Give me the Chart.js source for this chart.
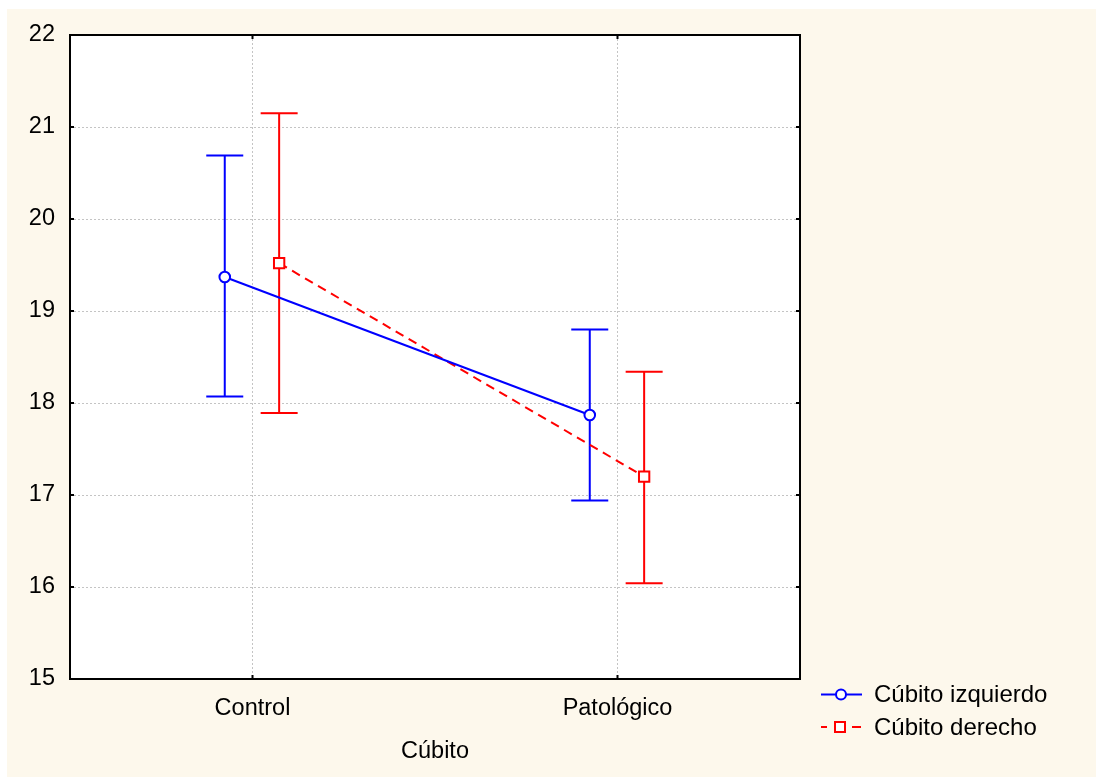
<!DOCTYPE html>
<html lang="es">
<head>
<meta charset="utf-8">
<title>Cúbito</title>
<script src="https://cdn.jsdelivr.net/npm/chart.js@4.4.1/dist/chart.umd.min.js"></script>
<style>
    html, body { margin: 0; padding: 0; background: #fff; overflow: hidden; }
    canvas { display: block; }
</style>
</head>
<body>
<canvas id="chart" width="1096" height="777"></canvas>
<script>
/* data */
const categories = ["Control", "Patológico"];
const yMin = 15, yMax = 22;

const izqMean = [19.37, 17.87];
const izqLow  = [18.07, 16.94];
const izqHigh = [20.69, 18.80];

const derMean = [19.52, 17.20];
const derLow  = [17.89, 16.04];
const derHigh = [21.15, 18.34];

/* ---------- style ---------- */
const FONT = "'Liberation Sans', Arial, sans-serif";
const BLUE = "#0000FF", RED = "#FF0000";
const DODGE = [-0.076, 0.073];   // horizontal shift of each series around its category
const CAP = 18.5;                // half width of whisker caps, px

Chart.defaults.font.family = FONT;
Chart.defaults.font.size = 23.5;
Chart.defaults.color = "#000";

function points(means, shift) {
    return means.map((v, i) => ({ x: i + shift, y: v }));
}

/* ---------- plugin: background, whiskers, frame, legend ---------- */
const decor = {
    id: "decor",
    beforeDraw(chart) {
        const { ctx, chartArea: a } = chart;
        ctx.save();
        ctx.fillStyle = "#FDF8EC";
        ctx.fillRect(7, 9, chart.width - 7, chart.height - 9);
        ctx.fillStyle = "#fff";
        ctx.fillRect(a.left, a.top, a.right - a.left, a.bottom - a.top);
        ctx.restore();
    },
    beforeDatasetsDraw(chart) {
        const { ctx } = chart, y = chart.scales.y;
        ctx.save();
        chart.data.datasets.forEach((ds, i) => {
            chart.getDatasetMeta(i).data.forEach((pt, j) => {
                const top = y.getPixelForValue(ds.high[j]);
                const bot = y.getPixelForValue(ds.low[j]);
                ctx.strokeStyle = ds.borderColor;
                ctx.lineWidth = 2;
                ctx.setLineDash([]);
                ctx.beginPath();
                ctx.moveTo(pt.x, top); ctx.lineTo(pt.x, bot);
                ctx.moveTo(pt.x - CAP, top); ctx.lineTo(pt.x + CAP, top);
                ctx.moveTo(pt.x - CAP, bot); ctx.lineTo(pt.x + CAP, bot);
                ctx.stroke();
            });
        });
        ctx.restore();
    },
    afterDraw(chart) {
        const { ctx, chartArea: a } = chart;
        const xs = chart.scales.x, ys = chart.scales.y;
        ctx.save();
        ctx.strokeStyle = "#000";
        ctx.lineWidth = 2;
        ctx.setLineDash([]);
        ctx.strokeRect(a.left, a.top, a.right - a.left, a.bottom - a.top);

        // inward tick marks
        ctx.beginPath();
        ys.ticks.forEach(t => {
            const p = ys.getPixelForValue(t.value);
            ctx.moveTo(a.left, p); ctx.lineTo(a.left + 4, p);
            ctx.moveTo(a.right, p); ctx.lineTo(a.right - 4, p);
        });
        xs.ticks.forEach(t => {
            const p = xs.getPixelForValue(t.value);
            ctx.moveTo(p, a.bottom); ctx.lineTo(p, a.bottom - 4);
            ctx.moveTo(p, a.top); ctx.lineTo(p, a.top + 4);
        });
        ctx.stroke();

        // legend
        const rows = [694.5, 727];
        chart.data.datasets.forEach((ds, i) => {
            const yy = rows[i];
            ctx.strokeStyle = ds.borderColor;
            ctx.lineWidth = 2;
            ctx.beginPath();
            if (ds.borderDash) {
                ctx.moveTo(821, yy); ctx.lineTo(827, yy);
                ctx.moveTo(852, yy); ctx.lineTo(861, yy);
            } else {
                ctx.moveTo(821, yy); ctx.lineTo(862, yy);
            }
            ctx.stroke();
            ctx.fillStyle = "#fff";
            ctx.beginPath();
            if (ds.pointStyle === "rect") {
                ctx.rect(835, yy - 5, 10, 10);
            } else {
                ctx.arc(841, yy, 5, 0, Math.PI * 2);
            }
            ctx.fill();
            ctx.stroke();

            ctx.fillStyle = "#000";
            ctx.font = "24px " + FONT;
            ctx.textBaseline = "middle";
            ctx.textAlign = "left";
            ctx.fillText(ds.label, 874, yy + 1);
        });
        ctx.restore();
    }
};

new Chart(document.getElementById("chart"), {
    type: "line",
    data: {
        datasets: [
            {
                label: "Cúbito izquierdo",
                data: points(izqMean, DODGE[0]),
                low: izqLow, high: izqHigh,
                borderColor: BLUE, borderWidth: 2,
                pointStyle: "circle", pointRadius: 5.3,
                pointBackgroundColor: "#fff", pointBorderColor: BLUE, pointBorderWidth: 2
            },
            {
                label: "Cúbito derecho",
                data: points(derMean, DODGE[1]),
                low: derLow, high: derHigh,
                borderColor: RED, borderWidth: 2, borderDash: [9, 6],
                pointStyle: "rect", pointRadius: 7.3,
                pointBackgroundColor: "#fff", pointBorderColor: RED, pointBorderWidth: 2
            }
        ]
    },
    options: {
        responsive: false,
        animation: false,
        events: [],
        layout: { padding: { left: 0, top: 35, right: 296, bottom: 0 } },
        plugins: { legend: { display: false }, tooltip: { enabled: false } },
        scales: {
            x: {
                type: "linear", min: -0.5, max: 1.5,
                afterBuildTicks: s => { s.ticks = categories.map((c, i) => ({ value: i })); },
                afterFit: s => { s.height = 98; },
                ticks: { padding: 15, callback: v => categories[v], maxRotation: 0, autoSkip: false },
                grid: { color: "#c4c4c4", lineWidth: 1, drawTicks: false },
                border: { display: false, dash: [2, 2] },
                title: { display: true, text: "Cúbito", padding: { top: 0, bottom: 11 } }
            },
            y: {
                min: yMin, max: yMax,
                afterFit: s => { s.width = 70; },
                ticks: { stepSize: 1, padding: 15 },
                grid: { color: "#c4c4c4", lineWidth: 1, drawTicks: false },
                border: { display: false, dash: [2, 2] }
            }
        }
    },
    plugins: [decor]
});
</script>
</body>
</html>
